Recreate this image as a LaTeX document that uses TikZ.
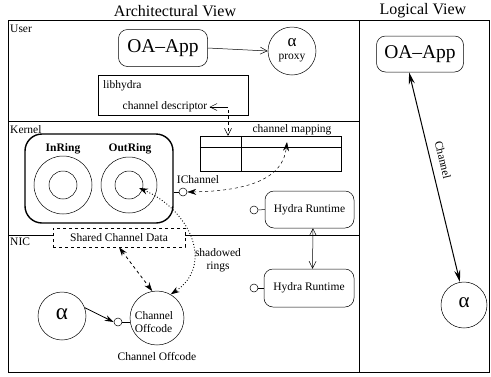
\documentclass[tikz,border=0pt]{standalone}
\usepackage{fontspec}
\setmainfont{Liberation Serif}
\usetikzlibrary{arrows.meta}
\begin{document}
\begin{tikzpicture}[x=1pt,y=-1pt,
  frame/.style={line width=0.6pt},
  lbl/.style={font=\fontsize{11.5}{13}\selectfont, inner sep=0pt},
  ttl/.style={font=\fontsize{16}{17}\selectfont, inner sep=0pt},
  rbox/.style={draw, rounded corners=9pt, line width=0.5pt, inner sep=0pt},
  big/.style={font=\fontsize{19.5}{20}\selectfont},
  ring/.style={draw, circle, inner sep=0pt, line width=0.5pt},
  port/.style={draw, circle, inner sep=0pt, minimum size=8pt, line width=0.5pt, fill=white},
  barb/.style={-{Straight Barb[length=7pt,width=7pt]}},
  barbs/.style={{Straight Barb[length=7pt,width=7pt]}-{Straight Barb[length=7pt,width=7pt]}},
  stl/.style={{Stealth[length=9pt,width=6pt]}-{Stealth[length=9pt,width=6pt]}},
  stl1/.style={-{Stealth[length=9pt,width=6pt]}},
  tri/.style={{Stealth[length=12pt,width=6pt]}-{Stealth[length=12pt,width=6pt]}},
]
\useasboundingbox (0,0) rectangle (491,376);

% titles
\node[ttl] (t1) at (175,11) {Architectural View};
\node[ttl] (t2) at (423,11) {Logical View};

% frame
\draw[frame] (8,20) rectangle (489,372);
\draw[frame] (359,20) -- (359,372);
\draw[frame] (8,121) -- (359,121);
\draw[frame] (8,235) -- (359,235);

\node[lbl, anchor=north west] (user) at (10,25) {User};
\node[lbl, anchor=north west] (kern) at (10,125) {Kernel};
\node[lbl, anchor=north west] (nic) at (10,238) {NIC};

% user
\node[rbox, big, minimum width=89pt, minimum height=37pt] (oa) at (163,48) {OA\textendash App};
\node[ring, minimum size=48pt] (prx) at (292,51) {};
\node[inner sep=0pt, font=\fontsize{17}{17}\selectfont] (prxa) at (292,43) {α};
\node[lbl] (prxt) at (292,58) {proxy};
\draw[barb, line width=0.5pt] (oa.east) -- (prx.west);

\node[draw, line width=0.5pt, minimum width=150pt, minimum height=40pt, inner sep=0pt] (lib) at (173,95) {};
\node[lbl, anchor=west] (libt) at (103,86) {libhydra};
\node[lbl] (desc) at (165,107) {channel descriptor};

% kernel
\node[draw, line width=0.5pt, minimum width=141pt, minimum height=35pt, inner sep=0pt] (map) at (270.5,153.5) {};
\draw[line width=0.5pt] (map.west |- 0,147) -- (map.east |- 0,147);
\draw[line width=0.5pt] (map.north -| 241,0) -- (map.south -| 241,0);
\node[lbl] (mapt) at (292,130) {channel mapping};

\coordinate (dsc) at (228,107);
\draw[barb, line width=0.5pt] (dsc) -- ([xshift=2pt]desc.east);
\draw[dashed, barb, line width=0.5pt] ([yshift=-3pt]dsc) -- (map.north -| dsc);

\node[draw, rounded corners=17pt, line width=1.4pt, minimum width=148pt, minimum height=89pt, inner sep=0pt] (rings) at (99,178.5) {};
\node[lbl, font=\bfseries\fontsize{11.5}{13}\selectfont] (inr) at (63,149) {InRing};
\node[lbl, font=\bfseries\fontsize{11.5}{13}\selectfont] (outr) at (130,149) {OutRing};
\node[ring, minimum size=58pt] (in1) at (63,185) {};
\node[ring, minimum size=28pt] (in2) at (63,185) {};
\node[ring, minimum size=56pt] (out1) at (129,185) {};
\node[ring, minimum size=28pt] (out2) at (129,185) {};
\coordinate (oc) at (139,188);

\node[port] (ich) at (183,192) {};
\draw[line width=0.5pt] (rings.east |- ich) -- (ich.west);
\node[lbl] (icht) at (198,180) {IChannel};
\draw[dashed, stl, line width=0.5pt] (ich.east) .. controls (250,191) and (283,178) .. (287,142);

\node[rbox, lbl, minimum width=89pt, minimum height=37pt] (hr1) at (309.5,209.5) {Hydra Runtime};
\node[port] (hp1) at (254,210) {};
\draw[line width=0.5pt] (hp1.east) -- (hr1.west);

% NIC
\node[rbox, lbl, minimum width=90pt, minimum height=38pt] (hr2) at (309,288) {Hydra Runtime};
\node[port] (hp2) at (254,288) {};
\draw[line width=0.5pt] (hp2.east) -- (hr2.west);
\draw[barbs, line width=0.5pt] ([xshift=3.5pt]hr1.south) -- ([xshift=3.5pt]hr2.north);

\node[draw, dashed, fill=white, line width=0.5pt, minimum width=132pt, minimum height=19pt, inner sep=0pt, lbl] (scd) at (119,237.5) {Shared Channel Data};

\node[ring, minimum size=54pt] (co) at (157,318) {};
\node[lbl, align=left] (cot) at (154,322) {Channel\\Offcode};
\node[lbl] (cob) at (157,357) {Channel Offcode};

\node[ring, minimum size=48pt] (al) at (62,316) {};
\node[inner sep=0pt, font=\fontsize{23}{23}\selectfont] (alt) at (62,314) {α};
\node[port] (sc) at (118,322) {};
\draw[line width=0.5pt] (sc.east) -- (co.west |- sc);
\draw[stl1, line width=0.8pt] (al.20) -- (sc.west);

\draw[dashed, stl, line width=0.8pt] (scd.south) -- (co.100);
\draw[dotted, stl, line width=0.9pt] (oc) .. controls (190,210) and (215,265) .. (co.60);
\node[lbl, align=center] (shr) at (218,260) {shadowed\\rings};

% logical view
\node[rbox, big, minimum width=87pt, minimum height=36pt] (oa2) at (420,54) {OA\textendash App};
\node[ring, minimum size=46pt] (al2) at (464,305) {};
\node[inner sep=0pt, font=\fontsize{21}{21}\selectfont] (al2t) at (464,303) {α};
\draw[tri, line width=1pt] (oa2.-121) -- (al2.100);
\node[lbl, rotate=-76.5] (chl) at (443,160) {Channel};
\end{tikzpicture}
\end{document}
